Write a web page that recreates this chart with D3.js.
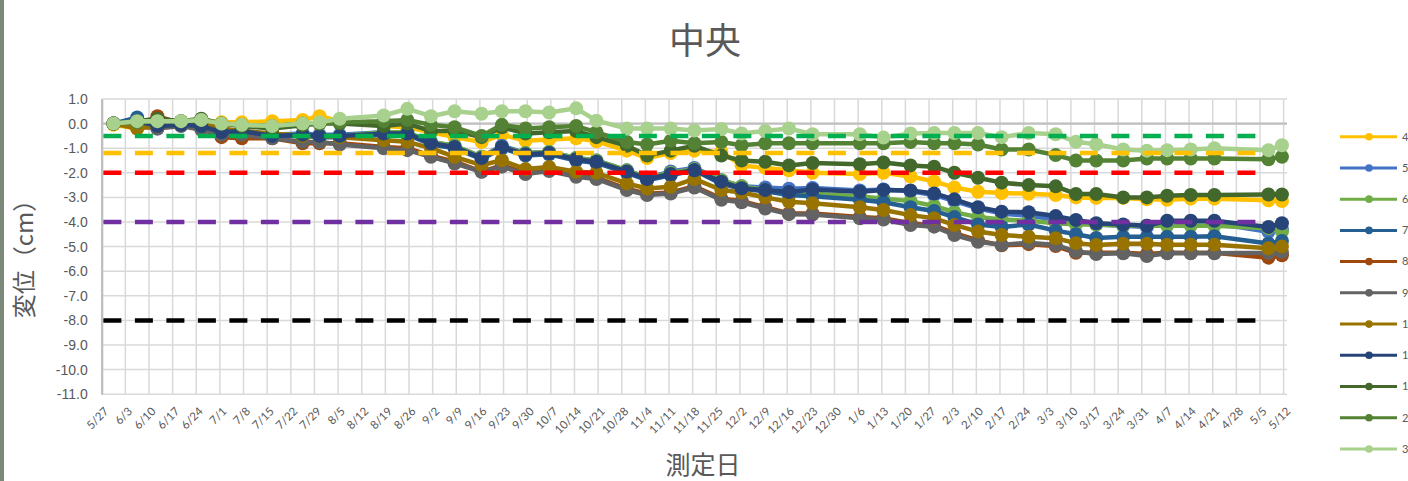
<!DOCTYPE html>
<html lang="ja">
<head>
<meta charset="utf-8">
<title>中央</title>
<script src="https://cdn.jsdelivr.net/npm/d3@7"></script>
<style>
  body { margin: 0; background: #fff; }
</style>
</head>
<body>
<div id="chart"></div>
<script>
// measurement dates (one per point)
var dates = ["2018-05-30","2018-06-06","2018-06-12","2018-06-19","2018-06-25","2018-07-01","2018-07-07","2018-07-16",
  "2018-07-25","2018-07-30","2018-08-05","2018-08-18","2018-08-25","2018-09-01","2018-09-08","2018-09-16",
  "2018-09-22","2018-09-29","2018-10-06","2018-10-14","2018-10-20","2018-10-29","2018-11-04","2018-11-11",
  "2018-11-18","2018-11-26","2018-12-02","2018-12-09","2018-12-16","2018-12-23","2019-01-06","2019-01-13",
  "2019-01-21","2019-01-28","2019-02-03","2019-02-10","2019-02-17","2019-02-25","2019-03-05","2019-03-11",
  "2019-03-17","2019-03-25","2019-04-01","2019-04-07","2019-04-14","2019-04-21","2019-05-07","2019-05-11"];

var s4  = [-0.05,-0.2,0.0,0.05,0.15,0.05,0.05,0.1,0.15,0.3,0.1,-0.1,-0.15,-0.35,-0.55,-0.75,-0.45,-0.7,-0.65,-0.6,-0.72,-1.1,-1.4,-1.2,-1.1,-1.15,-1.7,-1.8,-1.9,-2.0,-2.05,-2.0,-2.15,-2.35,-2.6,-2.77,-2.82,-2.85,-2.9,-3.0,-3.02,-3.02,-3.08,-3.1,-3.05,-3.05,-3.12,-3.15];
var s5  = [0.0,0.15,-0.2,0.0,-0.05,-0.3,-0.3,-0.45,-0.4,-0.45,-0.45,-0.35,-0.35,-0.75,-0.9,-1.35,-0.9,-1.2,-1.15,-1.4,-1.5,-1.9,-2.2,-1.95,-1.8,-2.3,-2.55,-2.6,-2.65,-2.62,-2.72,-2.68,-2.75,-2.9,-3.15,-3.45,-3.65,-3.75,-3.9,-4.0,-4.1,-4.15,-4.2,-4.05,-4.05,-4.05,-4.4,-4.3];
var s6  = [0.0,0.0,-0.1,0.0,-0.1,-0.3,-0.3,-0.45,-0.45,-0.5,-0.5,-0.35,-0.35,-0.75,-0.9,-1.35,-0.95,-1.2,-1.15,-1.4,-1.5,-1.9,-2.2,-2.0,-1.85,-2.3,-2.55,-2.7,-2.8,-2.85,-2.95,-3.05,-3.15,-3.35,-3.6,-3.8,-3.9,-3.95,-4.05,-4.1,-4.1,-4.15,-4.15,-4.15,-4.15,-4.15,-4.25,-4.4];
var s7  = [0.0,0.25,-0.15,-0.05,-0.1,-0.35,-0.35,-0.5,-0.5,-0.55,-0.55,-0.45,-0.45,-0.85,-1.0,-1.45,-1.0,-1.3,-1.25,-1.5,-1.6,-2.0,-2.3,-2.1,-1.9,-2.45,-2.65,-2.75,-2.9,-2.95,-3.1,-3.2,-3.4,-3.55,-3.8,-4.1,-4.2,-4.1,-4.35,-4.5,-4.65,-4.6,-4.6,-4.6,-4.6,-4.58,-4.87,-4.77];
var s8  = [0.0,-0.1,0.3,0.0,-0.2,-0.55,-0.6,-0.6,-0.8,-0.8,-0.8,-0.95,-1.0,-1.3,-1.55,-1.95,-1.7,-2.0,-1.85,-2.1,-2.2,-2.65,-2.85,-2.8,-2.55,-3.05,-3.15,-3.4,-3.65,-3.65,-3.8,-3.85,-4.05,-4.15,-4.45,-4.75,-4.95,-4.9,-4.98,-5.25,-5.25,-5.25,-5.3,-5.25,-5.25,-5.25,-5.45,-5.35];
var s9  = [0.0,-0.1,-0.2,-0.1,-0.25,-0.45,-0.45,-0.6,-0.74,-0.75,-0.85,-1.0,-1.08,-1.35,-1.62,-1.96,-1.75,-2.05,-1.93,-2.16,-2.25,-2.7,-2.9,-2.84,-2.6,-3.1,-3.2,-3.45,-3.68,-3.7,-3.85,-3.9,-4.12,-4.19,-4.53,-4.8,-4.93,-4.84,-4.93,-5.2,-5.3,-5.27,-5.38,-5.27,-5.27,-5.27,-5.25,-5.22];
var s10 = [0.0,-0.2,-0.1,0.0,0.05,-0.2,-0.3,-0.4,-0.5,-0.5,-0.55,-0.68,-0.74,-1.0,-1.35,-1.69,-1.49,-1.85,-1.76,-1.96,-2.0,-2.43,-2.64,-2.57,-2.25,-2.7,-2.8,-3.0,-3.18,-3.24,-3.4,-3.51,-3.72,-3.85,-4.12,-4.39,-4.53,-4.6,-4.66,-4.86,-4.93,-4.88,-4.88,-4.92,-4.92,-4.92,-5.07,-5.0];
var s11 = [0.0,0.1,-0.1,-0.05,-0.1,-0.35,-0.3,-0.5,-0.45,-0.5,-0.5,-0.4,-0.4,-0.8,-0.95,-1.4,-0.95,-1.25,-1.2,-1.45,-1.55,-1.95,-2.25,-2.05,-1.9,-2.36,-2.63,-2.7,-2.78,-2.68,-2.77,-2.7,-2.72,-2.84,-3.08,-3.4,-3.58,-3.6,-3.76,-3.92,-4.05,-4.1,-4.15,-3.95,-3.95,-3.95,-4.2,-4.05];
var s12 = [0.0,0.1,0.2,0.1,0.2,0.0,-0.1,-0.2,-0.07,0.0,0.0,-0.1,0.0,-0.3,-0.3,-0.55,-0.15,-0.4,-0.35,-0.3,-0.55,-0.9,-1.3,-1.1,-0.9,-1.3,-1.5,-1.55,-1.7,-1.6,-1.65,-1.58,-1.7,-1.75,-2.0,-2.2,-2.4,-2.5,-2.55,-2.86,-2.86,-3.0,-3.0,-2.93,-2.9,-2.9,-2.88,-2.88];
var s2  = [0.0,0.05,0.1,0.1,0.15,0.0,-0.05,-0.1,0.0,0.0,0.05,0.1,0.15,-0.05,-0.15,-0.5,-0.05,-0.2,-0.15,-0.1,-0.35,-0.75,-0.85,-0.7,-0.8,-0.75,-0.88,-0.8,-0.8,-0.8,-0.8,-0.8,-0.75,-0.8,-0.8,-0.85,-1.05,-1.05,-1.28,-1.5,-1.5,-1.5,-1.42,-1.42,-1.42,-1.42,-1.45,-1.35];
var s3  = [0.0,0.1,0.1,0.1,0.15,0.0,-0.05,-0.1,0.0,0.05,0.2,0.33,0.6,0.3,0.5,0.4,0.5,0.5,0.45,0.62,0.12,-0.2,-0.2,-0.2,-0.28,-0.22,-0.4,-0.3,-0.2,-0.43,-0.43,-0.57,-0.4,-0.38,-0.38,-0.38,-0.55,-0.38,-0.43,-0.74,-0.84,-1.05,-1.1,-1.08,-1.05,-1.0,-1.08,-0.88];

// legend names as they show in the (cut-off) legend
var seriesNames  = ["4","5","6","7","8","9","1","1","1","2","3"];
var seriesValues = [s4, s5, s6, s7, s8, s9, s10, s11, s12, s2, s3];
var seriesColors = ["#FFC000","#4472C4","#70AD47","#255E91","#9E480E","#636363","#997300","#264478","#43682B","#548235","#A9D18E"];

// dashed reference levels
var refLevels = [-0.5, -1.2, -2.0, -4.0, -8.0];
var refColors = ["#00B050","#FFC000","#FF0000","#7030A0","#000000"];
var refSpan = ["2018-05-27", "2019-05-07"];

var xTickLabels = ["5/27","6/3","6/10","6/17","6/24","7/1","7/8","7/15","7/22","7/29","8/5","8/12","8/19","8/26",
  "9/2","9/9","9/16","9/23","9/30","10/7","10/14","10/21","10/28","11/4","11/11","11/18","11/25","12/2","12/9",
  "12/16","12/23","12/30","1/6","1/13","1/20","1/27","2/3","2/10","2/17","2/24","3/3","3/10","3/17","3/24",
  "3/31","4/7","4/14","4/21","4/28","5/5","5/12"];
var yTicks = [1,0,-1,-2,-3,-4,-5,-6,-7,-8,-9,-10,-11];

var W = 1408, H = 481;
var plot = { left: 101.7, right: 1287, top: 99, bottom: 394.2 };
var textColor = "#595959";
var parse = d3.utcParse("%Y-%m-%d");

var svg = d3.select("#chart").append("svg")
    .attr("width", W).attr("height", H)
    .style("font-family", "Lato, 'Noto Sans', sans-serif");

svg.append("rect").attr("width", W).attr("height", H).attr("fill", "#fff");
// dark strip on the very left edge of the screenshot
svg.append("rect").attr("x", 0).attr("y", 0).attr("width", 4).attr("height", H).attr("fill", "#7b8a78");

var x = d3.scaleUtc()
    .domain([parse("2018-05-27"), parse("2019-05-13")])
    .range([plot.left, plot.right]);
var y = d3.scaleLinear().domain([-11, 1]).range([plot.bottom, plot.top]);
var halfDay = (x(parse("2018-05-28")) - x(parse("2018-05-27"))) / 2;

function tickDate(lbl) {
    var p = lbl.split("/");
    var yr = +p[0] >= 5 ? 2018 : 2019;
    if (+p[0] == 5 && +p[1] < 27) yr = 2019;
    return new Date(Date.UTC(yr, +p[0] - 1, +p[1]));
}

// gridlines
var grid = svg.append("g");
grid.selectAll("line.h").data(yTicks).enter().append("line")
    .attr("x1", plot.left).attr("x2", plot.right)
    .attr("y1", function (d) { return y(d); }).attr("y2", function (d) { return y(d); })
    .attr("stroke", "#d9d9d9").attr("stroke-width", 1.5);
grid.selectAll("line.v").data(xTickLabels).enter().append("line")
    .attr("x1", function (d) { return x(tickDate(d)); }).attr("x2", function (d) { return x(tickDate(d)); })
    .attr("y1", plot.top).attr("y2", plot.bottom)
    .attr("stroke", "#d9d9d9").attr("stroke-width", 1.5);

// y axis
var yAxis = d3.axisLeft(y).tickValues(yTicks).tickSize(0).tickPadding(14)
    .tickFormat(function (d) { return d.toFixed(1); });
var gy = svg.append("g").attr("transform", "translate(" + plot.left + ",0)").call(yAxis);
gy.select(".domain").attr("stroke", "#bfbfbf").attr("stroke-width", 2.25);
gy.selectAll("text").style("font-size", "14px").attr("fill", textColor);

// category axis line crosses at 0
svg.append("line")
    .attr("x1", plot.left).attr("x2", plot.right)
    .attr("y1", y(0)).attr("y2", y(0))
    .attr("stroke", "#bfbfbf").attr("stroke-width", 2.25);

// x tick labels, rotated
svg.append("g").selectAll("text").data(xTickLabels).enter().append("text")
    .attr("transform", function (d) {
        return "translate(" + (x(tickDate(d)) + halfDay + 3) + "," + (plot.bottom + 15) + ") rotate(-45)";
    })
    .attr("text-anchor", "end")
    .attr("dy", "0.35em")
    .attr("fill", textColor)
    .style("font-size", "11.5px")
    .text(function (d) { return d; });

// series
var line = d3.line()
    .x(function (d) { return x(d.date) + halfDay; })
    .y(function (d) { return y(d.v); });

var series = seriesNames.map(function (name, i) {
    return {
        name: name, color: seriesColors[i],
        pts: dates.map(function (ds, j) { return { date: parse(ds), v: seriesValues[i][j] }; })
    };
});

var sg = svg.append("g");
series.forEach(function (s) {
    var g = sg.append("g");
    g.append("path").datum(s.pts)
        .attr("d", line)
        .attr("fill", "none")
        .attr("stroke", s.color)
        .attr("stroke-width", 4.5)
        .attr("stroke-linejoin", "round");
    g.selectAll("circle").data(s.pts).enter().append("circle")
        .attr("cx", function (d) { return x(d.date) + halfDay; })
        .attr("cy", function (d) { return y(d.v); })
        .attr("r", 7)
        .attr("fill", s.color);
});

// reference dashed lines on top
svg.append("g").selectAll("line").data(refLevels).enter().append("line")
    .attr("x1", x(parse(refSpan[0])) + halfDay)
    .attr("x2", x(parse(refSpan[1])) + halfDay)
    .attr("y1", function (d) { return y(d); })
    .attr("y2", function (d) { return y(d); })
    .attr("stroke", function (d, i) { return refColors[i]; })
    .attr("stroke-width", 4.5)
    .attr("stroke-dasharray", "18,13.5");

// titles
svg.append("text")
    .attr("x", 705).attr("y", 54)
    .attr("text-anchor", "middle")
    .attr("fill", textColor)
    .style("font-family", "'Noto Sans CJK JP', sans-serif")
    .style("font-size", "36px")
    .text("中央");

svg.append("text")
    .attr("x", 703).attr("y", 474)
    .attr("text-anchor", "middle")
    .attr("fill", textColor)
    .style("font-family", "'Noto Sans CJK JP', sans-serif")
    .style("font-size", "25px")
    .text("測定日");

svg.append("text")
    .attr("transform", "translate(33,253) rotate(-90)")
    .attr("text-anchor", "middle")
    .attr("fill", textColor)
    .style("font-family", "'Noto Sans CJK JP', sans-serif")
    .style("font-size", "24px")
    .text("変位（cm）");

// legend
var legend = svg.append("g");
var lg = legend.selectAll("g").data(series).enter().append("g")
    .attr("transform", function (d, i) { return "translate(1340," + (136.7 + i * 31.23) + ")"; });
lg.append("line").attr("x1", 0).attr("x2", 57)
    .attr("stroke", function (d) { return d.color; }).attr("stroke-width", 3);
lg.append("circle").attr("cx", 29).attr("r", 3.8).attr("fill", function (d) { return d.color; });
lg.append("text").attr("x", 62).attr("dy", "0.35em")
    .attr("fill", textColor)
    .style("font-size", "11px")
    .text(function (d) { return d.name; });
</script>
</body>
</html>
